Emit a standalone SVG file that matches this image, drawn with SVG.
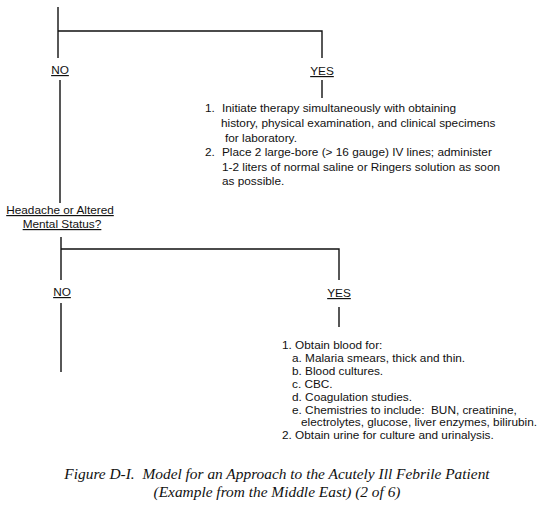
<svg xmlns="http://www.w3.org/2000/svg" width="550" height="520" viewBox="0 0 550 520">
<style>
.ln{stroke:#111;stroke-width:1.4;fill:none}
.t{font-family:"Liberation Sans",Arial,sans-serif;font-size:11.8px;fill:#111}
.u{text-decoration:underline}
.cap{font-family:"Liberation Serif","Times New Roman",serif;font-style:italic;font-size:15.4px;fill:#111}
</style>
<rect width="550" height="520" fill="#fff"/>
<g id="connectors">
<path class="ln" d="M58,7V58M58,31H322V58M322,80V98M60,80V203"/>
<path class="ln" d="M61,237V280M61,249H339V280M339,307V327M61,303V372"/>
</g>
<g id="no1"><text class="t u" x="60" y="74" text-anchor="middle">NO</text></g>
<g id="yes1"><text class="t u" x="322" y="75" text-anchor="middle">YES</text></g>
<g id="actions1">
<text class="t" x="205" y="112">1.</text>
<text class="t" x="222" y="112">Initiate therapy simultaneously with obtaining</text>
<text class="t" x="221" y="127">history, physical examination, and clinical specimens</text>
<text class="t" x="225" y="141.5">for laboratory.</text>
<text class="t" x="205" y="156">2.</text>
<text class="t" x="222" y="156">Place 2 large-bore (&gt; 16 gauge) IV lines; administer</text>
<text class="t" x="222" y="170.5">1-2 liters of normal saline or Ringers solution as soon</text>
<text class="t" x="222" y="185">as possible.</text>
</g>
<g id="question">
<text class="t u" x="60" y="214" text-anchor="middle">Headache or Altered</text>
<text class="t u" x="62" y="228" text-anchor="middle">Mental Status?</text>
</g>
<g id="no2"><text class="t u" x="62" y="296" text-anchor="middle">NO</text></g>
<g id="yes2"><text class="t u" x="339" y="297" text-anchor="middle">YES</text></g>
<g id="actions2">
<text class="t" x="282" y="348.5">1. Obtain blood for:</text>
<text class="t" x="292" y="361.5">a. Malaria smears, thick and thin.</text>
<text class="t" x="292" y="374.5">b. Blood cultures.</text>
<text class="t" x="292" y="387.5">c. CBC.</text>
<text class="t" x="292" y="400.5">d. Coagulation studies.</text>
<text class="t" x="292" y="413.5" xml:space="preserve">e. Chemistries to include:  BUN, creatinine,</text>
<text class="t" x="301" y="426">electrolytes, glucose, liver enzymes, bilirubin.</text>
<text class="t" x="282" y="439">2. Obtain urine for culture and urinalysis.</text>
</g>
<g id="caption">
<text class="cap" x="277" y="479" text-anchor="middle" xml:space="preserve">Figure D-I.  Model for an Approach to the Acutely Ill Febrile Patient</text>
<text class="cap" x="277" y="497" text-anchor="middle">(Example from the Middle East) (2 of 6)</text>
</g>
</svg>
